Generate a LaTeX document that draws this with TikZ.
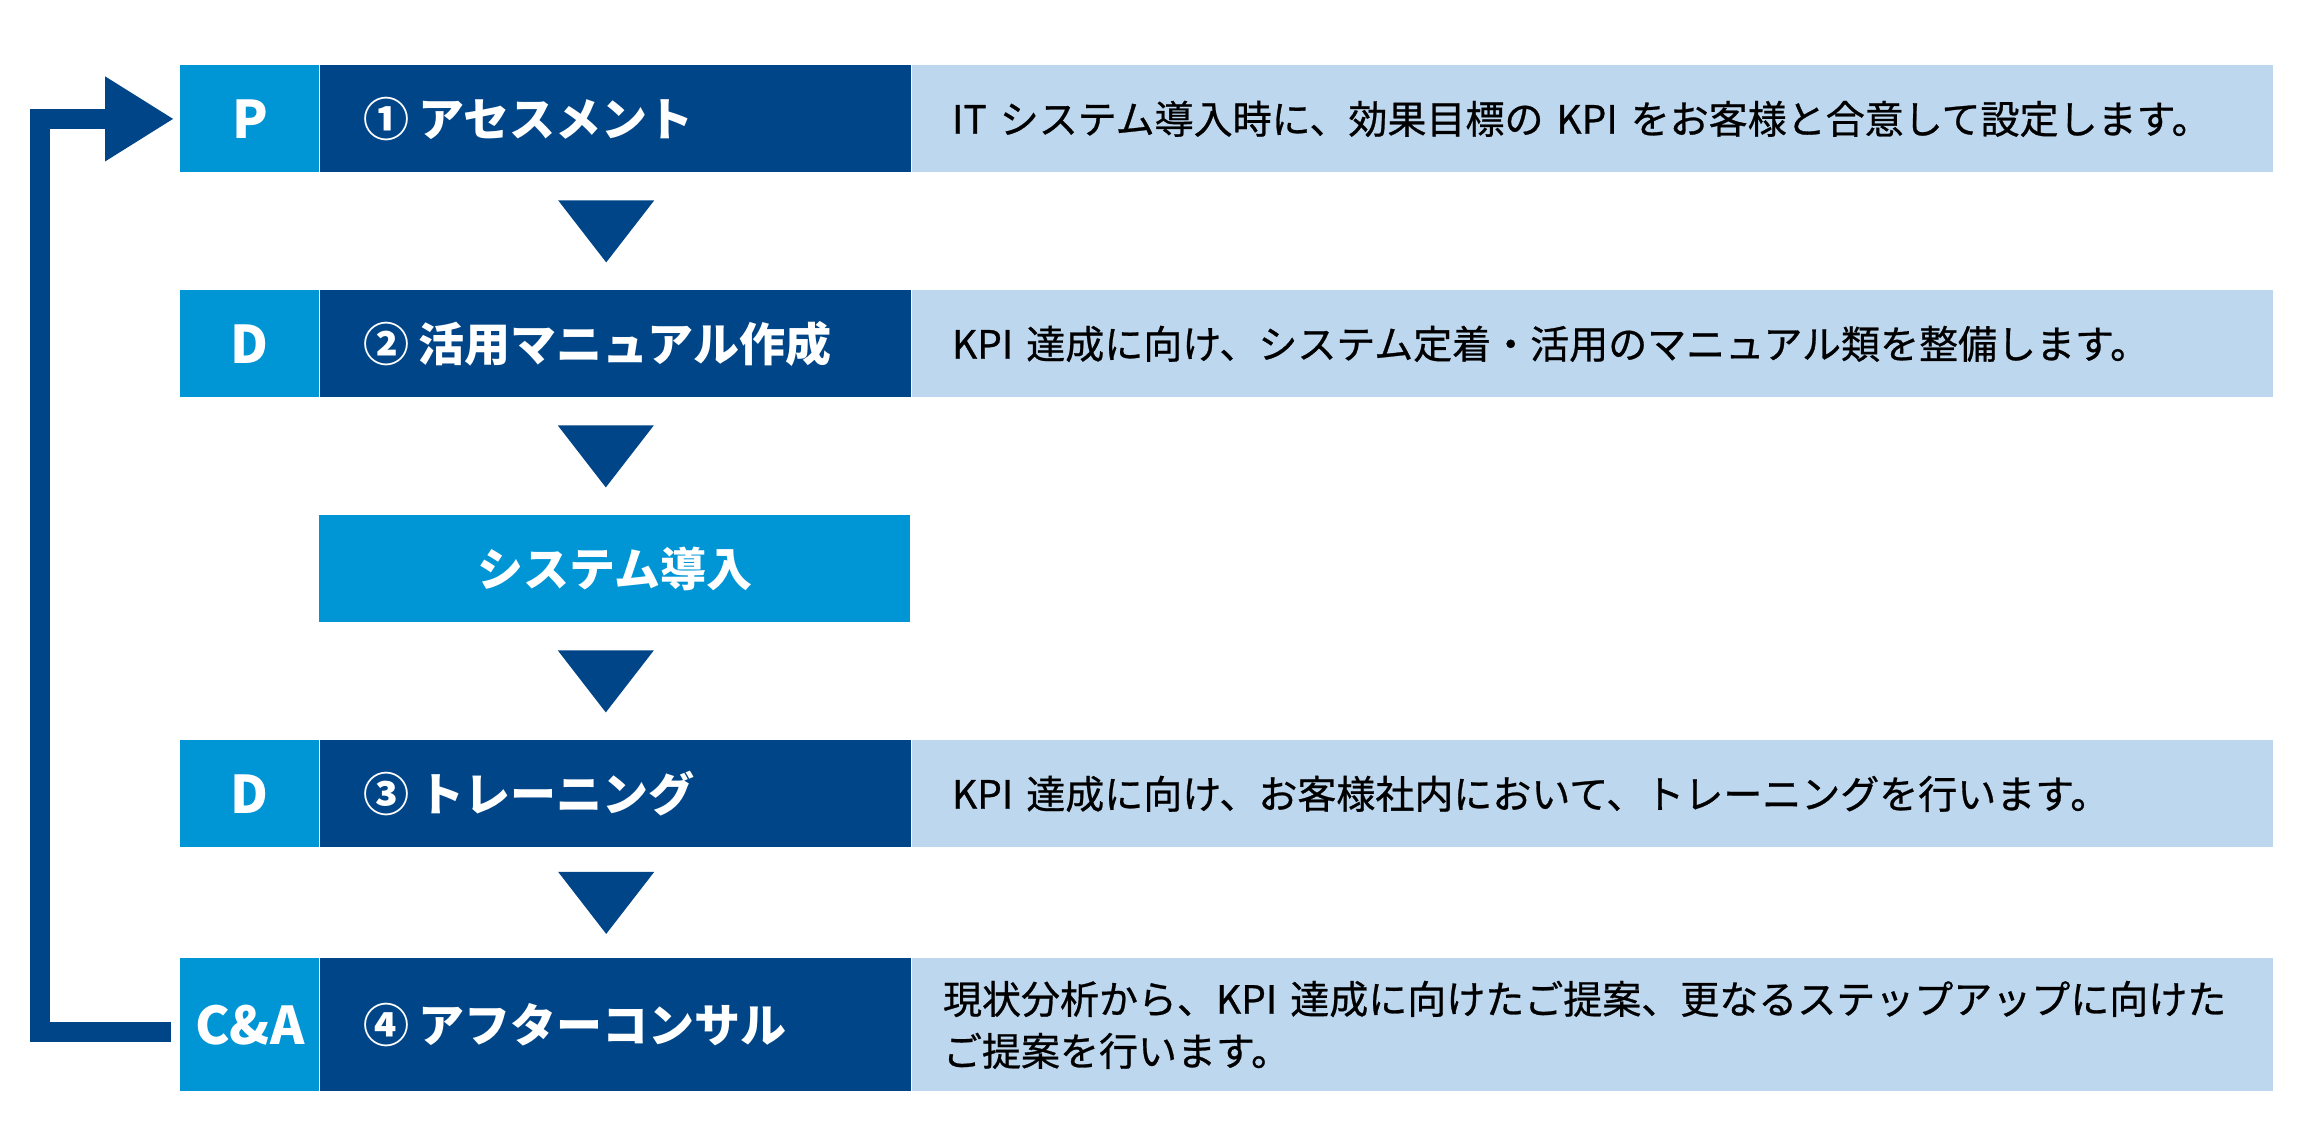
\documentclass[tikz,border=0pt]{standalone}
\usepackage{fontspec}
\setmainfont{Noto Sans CJK JP}
\newfontfamily\notefont{Noto Sans CJK JP}[FakeBold=0.7]
\usetikzlibrary{positioning,calc,arrows.meta}
\definecolor{navy}{RGB}{0,69,135}
\definecolor{sky}{RGB}{0,149,213}
\definecolor{pale}{RGB}{189,215,238}
\begin{document}
\begin{tikzpicture}[x=0.5pt,y=-0.5pt,
    letterbox/.style={fill=sky,text=white,font=\bfseries\fontsize{26}{30}\selectfont,
      minimum width=69.5pt,minimum height=53.5pt,inner sep=0pt},
    stagebox/.style={fill=navy,text=white,font=\bfseries\fontsize{23}{28}\selectfont,
      text width=252.5pt,inner xsep=21.5pt,inner ysep=0pt,minimum height=53.5pt,align=left},
    sysbox/.style={fill=sky,text=white,font=\bfseries\fontsize{23}{28}\selectfont,
      minimum width=295.5pt,minimum height=53.5pt,inner sep=0pt},
    notebox/.style={fill=pale,text=black,font=\notefont\fontsize{19.5}{26}\selectfont,
      text width=640.5pt,inner xsep=20pt,inner ysep=0pt,minimum height=53.5pt,align=left},
    tallrow/.style={minimum height=66.5pt},
    loopback/.style={navy,line width=10pt,line join=miter,
      -{Triangle[length=34.5pt,width=40pt]}}]
  \useasboundingbox (0,0) rectangle (2316,1130);
  % P
  \node[letterbox,anchor=north west] (p1) at (180,65) {P};
  \node[stagebox,right=0pt of p1] (h1) {①\hspace{0.2em}アセスメント};
  \node[notebox,right=0pt of h1] (d1) {IT システム導入時に、効果目標の KPI をお客様と合意して設定します。};
  % D
  \node[letterbox,anchor=north west] (p2) at (180,290) {D};
  \node[stagebox,right=0pt of p2] (h2) {②\hspace{0.2em}活用マニュアル作成};
  \node[notebox,right=0pt of h2] (d2) {KPI 達成に向け、システム定着・活用のマニュアル類を整備します。};
  % system
  \node[sysbox,anchor=north west] (sys) at (319,515) {システム導入};
  % D
  \node[letterbox,anchor=north west] (p3) at (180,740) {D};
  \node[stagebox,right=0pt of p3] (h3) {③\hspace{0.2em}トレーニング};
  \node[notebox,right=0pt of h3] (d3) {KPI 達成に向け、お客様社内において、トレーニングを行います。};
  % C&A
  \node[letterbox,tallrow,anchor=north west] (p4) at (180,958) {C\&A};
  \node[stagebox,tallrow,right=0pt of p4] (h4) {④\hspace{0.2em}アフターコンサル};
  \node[notebox,tallrow,right=0pt of h4,inner xsep=15.5pt,text width=649.5pt] (d4)
    {現状分析から、KPI 達成に向けたご提案、更なるステップアップに向けた\\ご提案を行います。};
  % triangles
  \foreach \a/\b in {h1/h2,h2/sys,sys/h3,h3/h4}
    \fill[navy] ($(\a.south)!0.5!(\b.north)+(-57.5,-31)$) -- ++(96,0) -- ++(-48,62) -- cycle;
  % back to P
  \draw[loopback] ([xshift=-4.5pt,yshift=-3.75pt]p4.west) -- ++(-65.5pt,0) |- ([xshift=-3pt]p1.west);
\end{tikzpicture}
\end{document}
